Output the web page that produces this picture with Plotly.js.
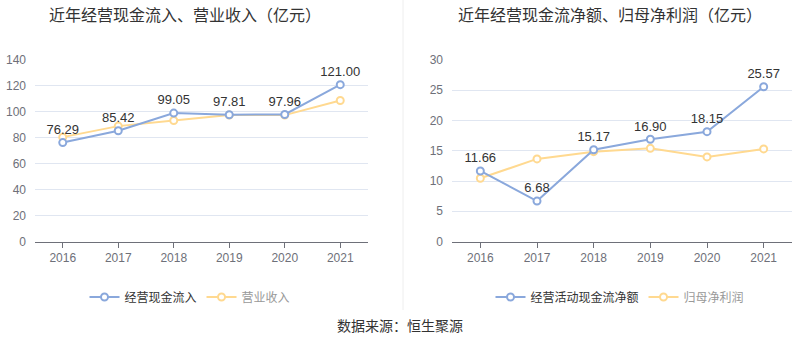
<!DOCTYPE html>
<html>
<head>
<meta charset="utf-8">
<script src="https://cdn.plot.ly/plotly-3.0.1.min.js"></script>
<style>html,body{margin:0;padding:0;background:#fff;}#chart{width:800px;height:358px;}</style>
</head>
<body>
<div id="chart"></div>
<script>
var years = ['2016', '2017', '2018', '2019', '2020', '2021'];
var cashInflow = [76.29, 85.42, 99.05, 97.81, 97.96, 121.00];
var revenue = [80.5, 89.0, 93.3, 97.5, 97.5, 108.8];
var netCashFlow = [11.66, 6.68, 15.17, 16.90, 18.15, 25.57];
var netProfit = [10.45, 13.65, 14.85, 15.4, 13.98, 15.3];
var leftTitle = '近年经营现金流入、营业收入（亿元）';
var rightTitle = '近年经营现金流净额、归母净利润（亿元）';
var sourceText = '数据来源：恒生聚源';

var BLUE = '#8aa8dc';
var YELLOW = '#ffd990';
var FONT = 'Liberation Sans, Arial, sans-serif';
var CJK = 'Noto Sans CJK SC, sans-serif';

function series(x, y, name, color, xa, ya, lg, showText, legendColor) {
  return {
    x: x, y: y, name: '<span style="color:' + legendColor + '">' + name + '</span>', type: 'scatter',
    mode: showText ? 'lines+markers+text' : 'lines+markers',
    text: showText ? y.map(function (v) { return v.toFixed(2); }) : undefined,
    textposition: 'top center',
    textfont: {family: FONT, size: 13, color: '#333'},
    line: {color: color, width: 2},
    marker: {symbol: 'circle', size: 7, color: '#fff', line: {color: color, width: 2}},
    xaxis: xa, yaxis: ya, legend: lg, cliponaxis: false
  };
}

var data = [
  series(years, revenue, '营业收入', YELLOW, 'x', 'y', 'legend', false, '#999'),
  series(years, cashInflow, '经营现金流入', BLUE, 'x', 'y', 'legend', true, '#333'),
  series(years, netProfit, '归母净利润', YELLOW, 'x2', 'y2', 'legend2', false, '#999'),
  series(years, netCashFlow, '经营活动现金流净额', BLUE, 'x2', 'y2', 'legend2', true, '#333')
];

var yDom = [(358 - 241.5) / 358, (358 - 60) / 358];
function xaxis(dom, anchor) {
  return {domain: dom, anchor: anchor, type: 'category', range: [-0.5, 5.5],
    showgrid: false, showline: true, linecolor: '#6e7079', linewidth: 1,
    ticks: 'outside', ticklen: 5, tickcolor: '#6e7079',
    tickfont: {family: FONT, size: 12, color: '#6e7079'}, fixedrange: true, zeroline: false};
}
function yaxis(anchor, range, dtick) {
  return {domain: yDom, anchor: anchor, range: range, dtick: dtick,
    showgrid: true, gridcolor: '#e0e6f1', gridwidth: 1, zeroline: false, showline: false,
    tickfont: {family: FONT, size: 12, color: '#6e7079'}, ticklabelstandoff: 8, fixedrange: true};
}

var layout = {
  width: 800, height: 358,
  margin: {l: 0, r: 0, t: 0, b: 0},
  paper_bgcolor: '#fff', plot_bgcolor: '#fff',
  showlegend: true,
  xaxis: xaxis([35 / 800, 368 / 800], 'y'),
  yaxis: yaxis('x', [0, 140], 20),
  xaxis2: xaxis([452 / 800, 792 / 800], 'y2'),
  yaxis2: yaxis('x2', [0, 30], 5),
  legend: {orientation: 'h', x: 190 / 800, xanchor: 'center', y: (358 - 297) / 358, yanchor: 'middle',
    font: {family: CJK, size: 12, color: '#333'}, traceorder: 'reversed', itemwidth: 30, bgcolor: 'rgba(0,0,0,0)'},
  legend2: {orientation: 'h', x: 620 / 800, xanchor: 'center', y: (358 - 297) / 358, yanchor: 'middle',
    font: {family: CJK, size: 12, color: '#333'}, traceorder: 'reversed', itemwidth: 30, bgcolor: 'rgba(0,0,0,0)'},
  annotations: [
    {text: leftTitle, xref: 'paper', yref: 'paper', x: 185 / 800, y: (358 - 14) / 358, xanchor: 'center', yanchor: 'middle',
      showarrow: false, font: {family: CJK, size: 16, color: '#333'}},
    {text: rightTitle, xref: 'paper', yref: 'paper', x: 610 / 800, y: (358 - 14) / 358, xanchor: 'center', yanchor: 'middle',
      showarrow: false, font: {family: CJK, size: 16, color: '#333'}},
    {text: sourceText, xref: 'paper', yref: 'paper', x: 0.5, y: (358 - 325) / 358, xanchor: 'center', yanchor: 'middle',
      showarrow: false, font: {family: CJK, size: 14, color: '#333'}}
  ],
  shapes: [
    {type: 'line', xref: 'paper', yref: 'paper', x0: 403 / 800, x1: 403 / 800, y0: (358 - 310) / 358, y1: 1,
      line: {color: '#eeeeee', width: 1}}
  ]
};

Plotly.newPlot('chart', data, layout, {displayModeBar: false, staticPlot: true});
</script>
</body>
</html>
